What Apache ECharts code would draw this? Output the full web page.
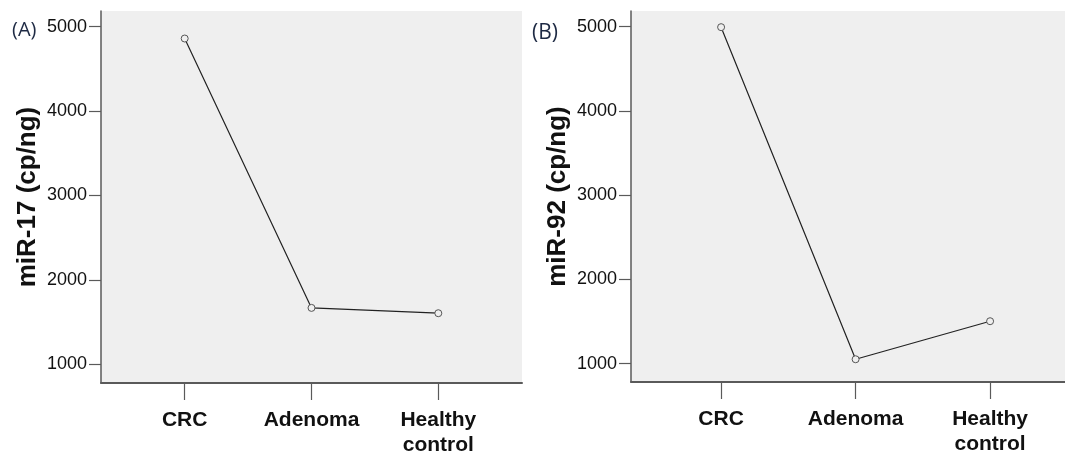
<!DOCTYPE html>
<html>
<head>
<meta charset="utf-8">
<script src="https://cdn.jsdelivr.net/npm/echarts@6/dist/echarts.min.js"></script>
<style>
  html, body { margin: 0; padding: 0; background: #fff; }
  #chart { width: 1065px; height: 459px; }
</style>
</head>
<body>
<div id="chart"></div>
<script>
// Group labels along the horizontal axis
const categories = ['CRC', 'Adenoma', 'Healthy\ncontrol'];
// Mean copies per ng for each group
const mir17Values = [4860, 1668, 1605];
const mir92Values = [4995, 1051, 1503];
// Tick values on the vertical axes
const yTicks = [1000, 2000, 3000, 4000, 5000];
const catIndex = [0, 1, 2];

const FONT = '"Liberation Sans", Arial, sans-serif';
const AXIS_COLOR = '#5a5a5a';

function xAxisFor(gridIndex, min, max) {
  return {
    type: 'value', gridIndex, min, max,
    axisLine: { show: true, onZero: false, lineStyle: { color: AXIS_COLOR, width: 2 } },
    axisTick: { show: true, customValues: catIndex, length: 17, lineStyle: { color: AXIS_COLOR, width: 1.2 } },
    axisLabel: {
      customValues: catIndex, margin: 25,
      formatter: v => categories[Math.round(v)] || '',
      fontFamily: FONT, fontWeight: 'bold', fontSize: 21, lineHeight: 25, color: '#111'
    },
    splitLine: { show: false }
  };
}

function yAxisFor(gridIndex, min, max, name) {
  return {
    type: 'value', gridIndex, min, max, name,
    nameLocation: 'middle', nameGap: 60,
    nameTextStyle: { fontFamily: FONT, fontWeight: 'bold', fontSize: 26, color: '#111' },
    axisLine: { show: true, onZero: false, lineStyle: { color: AXIS_COLOR, width: 1.5 } },
    axisTick: { show: true, customValues: yTicks, length: 12, lineStyle: { color: AXIS_COLOR, width: 1.2 } },
    axisLabel: {
      customValues: yTicks, margin: 14, formatter: v => String(v),
      fontFamily: FONT, fontSize: 18, color: '#111'
    },
    splitLine: { show: false }
  };
}

function lineSeries(idx, values) {
  return {
    type: 'line', xAxisIndex: idx, yAxisIndex: idx,
    data: values.map((v, i) => [catIndex[i], v]),
    symbol: 'circle', symbolSize: 7,
    itemStyle: { color: '#efefef', borderColor: '#555', borderWidth: 1 },
    lineStyle: { color: '#222', width: 1.2 },
    animation: false, silent: true
  };
}

const chart = echarts.init(document.getElementById('chart'), null, { renderer: 'canvas' });
chart.setOption({
  backgroundColor: '#fff',
  animation: false,
  grid: [
    { left: 101, top: 11, width: 421, height: 372, show: true, backgroundColor: '#efefef', borderWidth: 0 },
    { left: 631, top: 11, width: 434, height: 371, show: true, backgroundColor: '#efefef', borderWidth: 0 }
  ],
  xAxis: [xAxisFor(0, -0.66, 2.66), xAxisFor(1, -0.67, 2.557)],
  yAxis: [yAxisFor(0, 778, 5186, 'miR-17 (cp/ng)'), yAxisFor(1, 781, 5187, 'miR-92 (cp/ng)')],
  series: [lineSeries(0, mir17Values), lineSeries(1, mir92Values)],
  graphic: [
    { type: 'text', left: 12, top: 20, style: { text: '(A)', font: '20px "Open Sans", sans-serif', fill: '#1e2a44' } },
    { type: 'text', left: 532, top: 23, style: { text: '(B)', font: '21px "Open Sans", sans-serif', fill: '#1e2a44' } }
  ]
});
</script>
</body>
</html>
